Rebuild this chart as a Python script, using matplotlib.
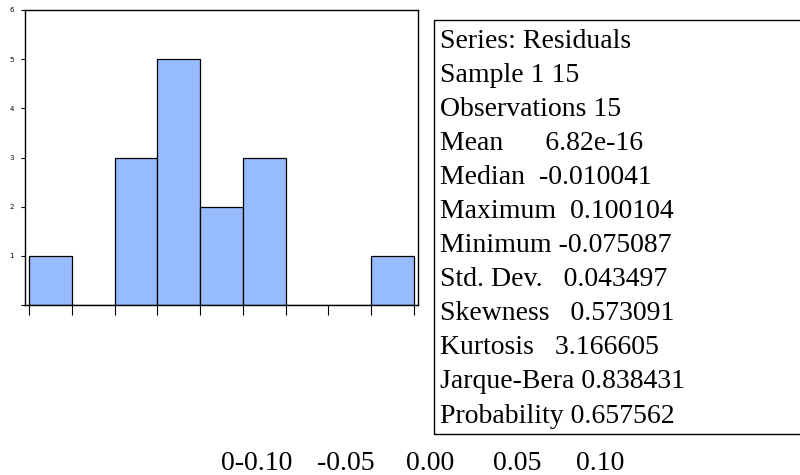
import numpy as np
import matplotlib
matplotlib.use("Agg")
import matplotlib.pyplot as plt
from matplotlib.patches import Rectangle

# histogram of residuals (bin edges and counts)
bin_edges = [-0.08, -0.06, -0.04, -0.02, 0.00, 0.02, 0.04, 0.06, 0.08, 0.10]
counts = [1, 0, 3, 5, 2, 3, 0, 0, 1]
y_ticks = [0, 1, 2, 3, 4, 5, 6]
y_tick_labels = ["", "1", "2", "3", "4", "5", "6"]

# statistics panel
stat_lines = [
    "Series: Residuals",
    "Sample 1 15",
    "Observations 15",
    "Mean      6.82e-16",
    "Median  -0.010041",
    "Maximum  0.100104",
    "Minimum -0.075087",
    "Std. Dev.   0.043497",
    "Skewness   0.573091",
    "Kurtosis   3.166605",
    "Jarque-Bera 0.838431",
    "Probability 0.657562",
]

# the stray x labels under the chart
x_labels = ["0-0.10", "-0.05", "0.00", "0.05", "0.10"]
x_label_pos = [257, 346, 430, 517, 600]

W, H = 800, 475
fig = plt.figure(figsize=(8, 4.75), dpi=100)
ax = fig.add_axes([25 / W, 1 - 305 / H, (418 - 25) / W, (305 - 10) / H])

edges = np.array(bin_edges)
ax.bar(edges[:-1], counts, width=np.diff(edges), align="edge",
       color="#97bcfd", edgecolor="black", linewidth=0.9)

ax.set_xlim(-0.0819, 0.1019)
ax.set_ylim(0, 6)
ax.set_xticks(bin_edges)
ax.set_xticklabels([])
ax.tick_params(axis="x", direction="out", length=7, width=0.8)
ax.set_yticks(y_ticks)
ax.set_yticklabels(y_tick_labels, fontsize=5)
ax.tick_params(axis="y", direction="out", length=3, width=0.8, pad=5)
for s in ax.spines.values():
    s.set_linewidth(1.0)

# stats box
fig.patches.append(Rectangle((434 / W, 1 - 434 / H), 1.0, (434 - 20) / H,
                             transform=fig.transFigure, fill=False,
                             edgecolor="black", linewidth=1.0, clip_on=False))
for i, line in enumerate(stat_lines):
    y = 41 + i * 34.1
    fig.text(440 / W, 1 - y / H, line, fontsize=20, family="Liberation Serif",
             va="center", ha="left")

for lab, xp in zip(x_labels, x_label_pos):
    fig.text(xp / W, 1 - 463 / H, lab, fontsize=20, family="Liberation Serif",
             va="center", ha="center")

fig.savefig("out.png", dpi=100)
